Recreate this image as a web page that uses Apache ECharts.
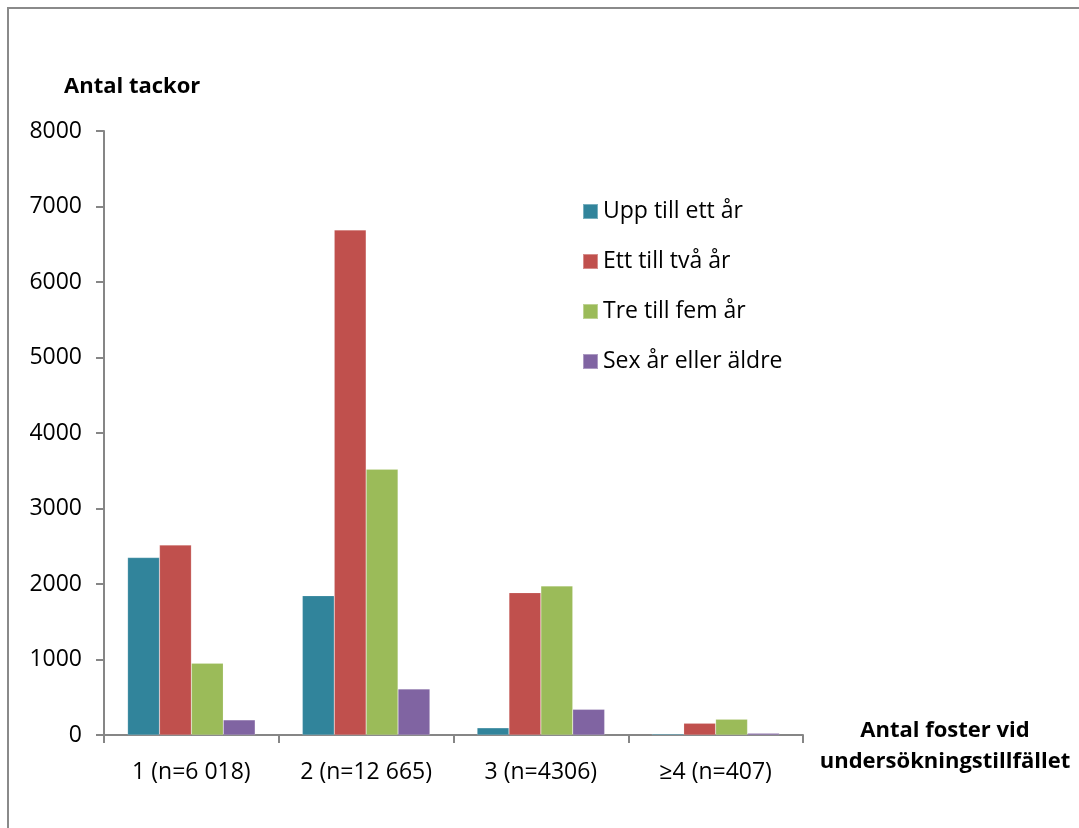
<!DOCTYPE html>
<html>
<head>
<meta charset="utf-8">
<script src="https://cdn.jsdelivr.net/npm/echarts@6/dist/echarts.min.js"></script>
<style>
html, body { margin: 0; padding: 0; background: #fff; }
#main { width: 1079px; height: 828px; }
</style>
</head>
<body>
<div id="main"></div>
<script>
// data
var categories = ['1 (n=6 018)', '2 (n=12 665)', '3 (n=4306)', '≥4 (n=407)'];
var seriesNames = ['Upp till ett år', 'Ett till två år', 'Tre till fem år', 'Sex år eller äldre'];
var uppTillEttAr = [2350, 1845, 95, 15];
var ettTillTvaAr = [2515, 6690, 1885, 155];
var treTillFemAr = [950, 3520, 1975, 210];
var sexArEllerAldre = [200, 610, 340, 22];
var colors = ['#31849B', '#C0504D', '#9BBB59', '#8064A2'];

var myChart = echarts.init(document.getElementById('main'));
var font = 'Open Sans';
var values = [uppTillEttAr, ettTillTvaAr, treTillFemAr, sexArEllerAldre];

var series = [];
for (var i = 0; i < seriesNames.length; i++) {
	series.push({
		name: seriesNames[i],
		type: 'bar',
		data: values[i],
		barGap: '0%',
		barCategoryGap: '27%',
		itemStyle: { color: colors[i], borderColor: 'rgba(255,255,255,0.35)', borderWidth: 0.5 }
	});
}

var option = {
	animation: false,
	color: colors,
	textStyle: { fontFamily: font },
	graphic: [{
		type: 'rect',
		shape: { x: 8, y: 8, width: 1200, height: 1000 },
		style: { fill: 'none', stroke: '#8a8a8a', lineWidth: 2 },
		silent: true
	}],
	title: [{
		text: 'Antal tackor',
		left: 59,
		top: 71,
		textStyle: { fontFamily: font, fontWeight: 'bold', fontSize: 22, color: '#000' }
	}, {
		text: 'Antal foster vid\nundersökningstillfället',
		left: 940,
		top: 710,
		textAlign: 'center',
		textStyle: { fontFamily: font, fontWeight: 'bold', fontSize: 22, lineHeight: 31, color: '#000' }
	}],
	legend: {
		orient: 'vertical',
		left: 582,
		top: 200,
		padding: 0,
		icon: 'rect',
		itemWidth: 15,
		itemHeight: 15,
		itemGap: 27,
		data: seriesNames,
		textStyle: { fontFamily: font, fontSize: 23, lineHeight: 23, color: '#000' }
	},
	grid: { left: 104, right: 276, top: 131, bottom: 93 },
	xAxis: {
		type: 'category',
		data: categories,
		axisLine: { lineStyle: { color: '#868686', width: 2 } },
		axisTick: { show: true, length: 8, lineStyle: { color: '#868686', width: 2 } },
		axisLabel: { fontFamily: font, fontSize: 23, color: '#000', margin: 26 }
	},
	yAxis: {
		type: 'value',
		min: 0,
		max: 8000,
		interval: 1000,
		splitLine: { show: false },
		axisLine: { show: true, lineStyle: { color: '#868686', width: 2 } },
		axisTick: { show: true, length: 8, lineStyle: { color: '#868686', width: 2 } },
		axisLabel: {
			fontFamily: font, fontSize: 23, color: '#000', margin: 22,
			formatter: function (v) { return String(v); }
		}
	},
	series: series
};

myChart.setOption(option);
</script>
</body>
</html>
